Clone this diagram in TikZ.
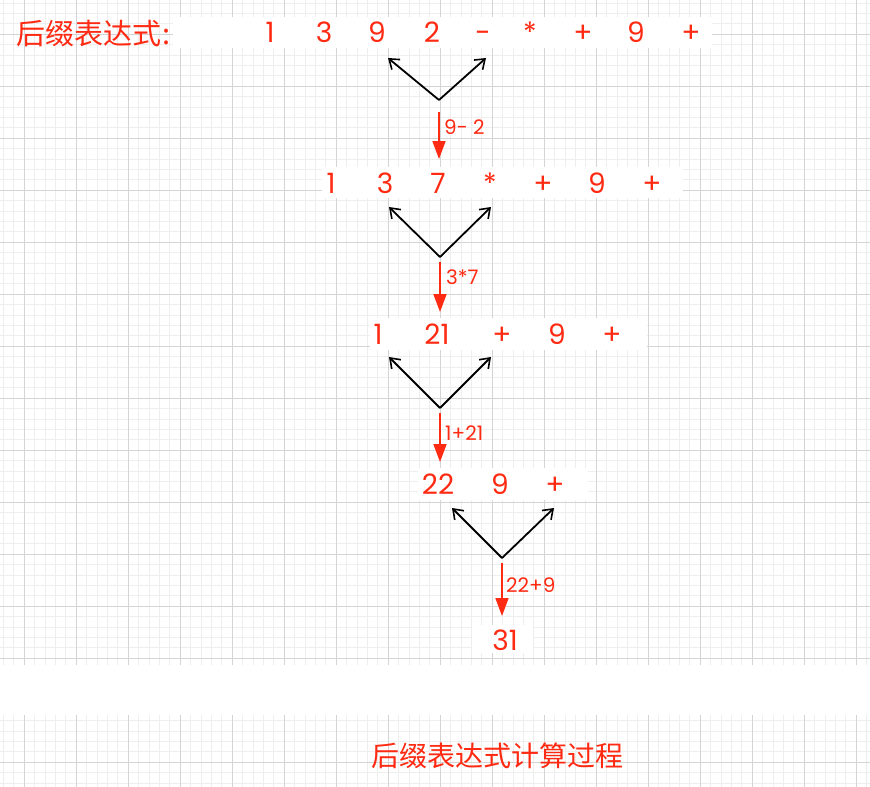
\documentclass[tikz,border=0pt]{standalone}
\usepackage{fontspec}
\setmainfont{Poppins}
\newfontfamily\cjk{Noto Sans CJK SC}
\usetikzlibrary{arrows.meta}
\definecolor{hong}{RGB}{255,42,18}
\definecolor{xiange}{RGB}{238,238,238}
\definecolor{cuge}{RGB}{212,212,212}
\tikzset{
  tok/.style={text=hong,font=\fontsize{28}{28}\selectfont,anchor=base,inner sep=0pt},
  biao/.style={text=hong,font=\fontsize{20}{20}\selectfont,anchor=base west,inner sep=0pt},
  fen/.style={draw=black,line width=1.8pt,-{Straight Barb[length=9pt,width=13pt,line width=1.6pt]}},
  ji/.style={draw=hong,line width=1.7pt,-{Triangle[length=18pt,width=13pt]}},
  baidi/.style={fill=white,draw=none}
}
\begin{document}
\begin{tikzpicture}[x=1pt,y=-1pt]
      \useasboundingbox (0,0) rectangle (870,787);
      \fill[white] (0,0) rectangle (870,787);
      
      %网格
      \foreach \i in {0,...,84} {
      	\draw[xiange,line width=0.6pt] (24+\i*10.4-10.4*2,0) -- (24+\i*10.4-10.4*2,787);
      }
      \foreach \i in {0,...,78} {
      	\draw[xiange,line width=0.6pt] (0,34+\i*10.4-10.4*3) -- (870,34+\i*10.4-10.4*3);
      }
      \foreach \x in {24,76,...,860} {
      	\draw[cuge,line width=0.7pt] (\x,0) -- (\x,787);
      }
      \foreach \y in {34,86,...,780} {
      	\draw[cuge,line width=0.7pt] (0,\y) -- (870,\y);
      }
      
      %白底
      \fill[baidi] (0,665) rectangle (870,715);
      \fill[baidi] (173,17) rectangle (712,48);
      \fill[baidi] (322,167) rectangle (683,198);
      \fill[baidi] (370,318) rectangle (647,350);
      \fill[baidi] (418,468) rectangle (588,500);
      \fill[baidi] (472,625) rectangle (533,653);
      
      %第一行
      \node[tok,anchor=base west,font=\fontsize{29}{29}\selectfont] (biaoti) at (16,44) {\cjk 后缀表达式\kern1pt:};
      \foreach \x/\t [count=\i] in {270/1,324/3,377/9,432/2,483/-,530/*,583/+,636/9,691/+} {
      	\node[tok] (a\i) at (\x,42) {\t};
      }
      
      %第二行
      \foreach \x/\t [count=\i] in {331/1,385/3,438/7,490/*,543/+,597/9,652/+} {
      	\node[tok] (b\i) at (\x,193) {\t};
      }
      
      %第三行
      \foreach \x/\t [count=\i] in {378/1,437/21,502/+,557/9,612/+} {
      	\node[tok] (c\i) at (\x,344) {\t};
      }
      
      %第四行
      \foreach \x/\t [count=\i] in {438/22,500/9,555/+} {
      	\node[tok] (d\i) at (\x,494) {\t};
      }
      
      %结果
      \node[tok] (e1) at (505,650) {31};
      
      %箭头
      \coordinate (v1) at (439,100); \coordinate (l1) at (388,58); \coordinate (r1) at (486,58);
      \coordinate (s1) at (439,112); \coordinate (t1) at (439,159);
      \coordinate (v2) at (440,257); \coordinate (l2) at (389,207); \coordinate (r2) at (491,207);
      \coordinate (s2) at (440,262); \coordinate (t2) at (440,312);
      \coordinate (v3) at (440,408); \coordinate (l3) at (389,357); \coordinate (r3) at (491,357);
      \coordinate (s3) at (440,413); \coordinate (t3) at (440,462);
      \coordinate (v4) at (502,558); \coordinate (l4) at (452,508); \coordinate (r4) at (554,508);
      \coordinate (s4) at (502,563); \coordinate (t4) at (502,616);
      
      \foreach \k in {1,2,3,4} {
      	\draw[fen] (v\k) -- (l\k);
      	\draw[fen] (v\k) -- (r\k);
      	\draw[ji] (s\k) -- (t\k);
      }
      
      \node[biao] (n1) at (444,134) {9- 2};
      \node[biao] (n2) at (446,284) {3*7};
      \node[biao] (n3) at (445,440) {1+21};
      \node[biao] (n4) at (506,592) {22+9};
      
      %标题
      \node[tok] (zhu) at (497,766) {\cjk 后缀表达式计算过程};
      
\end{tikzpicture}
\end{document}
